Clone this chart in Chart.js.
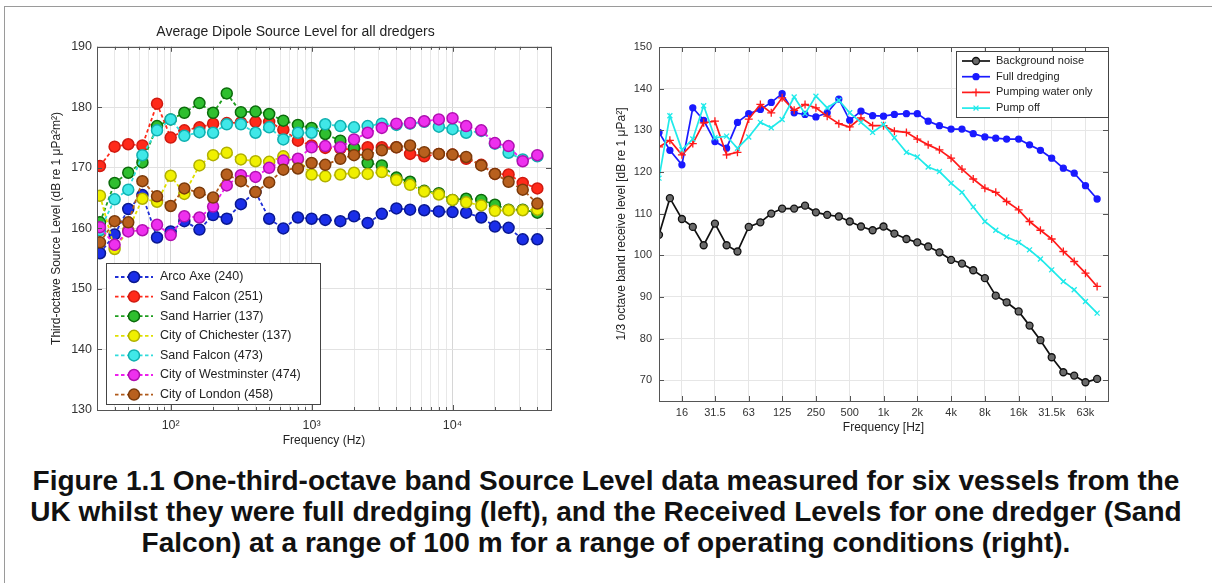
<!DOCTYPE html>
<html>
<head>
<meta charset="utf-8">
<script src="https://cdn.jsdelivr.net/npm/chart.js@4.4.1/dist/chart.umd.min.js"></script>
<style>
  body { margin: 0; background: #fff; width: 1212px; height: 583px; position: relative; overflow: hidden;
         font-family: "Liberation Sans", Arial, sans-serif; }
  .frame { position: absolute; left: 4px; top: 6px; width: 1220px; height: 600px;
           border-left: 1px solid #9a9a9a; border-top: 1px solid #9a9a9a; }
  .box { position: absolute; }
  #leftBox { left: 40px; top: 20px; width: 530px; height: 440px; }
  #rightBox { left: 600px; top: 20px; width: 540px; height: 430px; }
  .caption { position: absolute; left: 0; top: 465px; width: 1212px; text-align: center;
             font-weight: bold; font-size: 28px; line-height: 31px; color: #111; }
</style>
</head>
<body>
<div class="frame"></div>
<div class="box" id="leftBox"><canvas id="leftChart"></canvas></div>
<div class="box" id="rightBox"><canvas id="rightChart"></canvas></div>
<div class="caption">Figure 1.1 One-third-octave band Source Level data measured for six vessels from the<br>UK whilst they were full dredging (left), and the Received Levels for one dredger (Sand<br>Falcon) at a range of 100 m for a range of operating conditions (right).</div>

<script>
Chart.defaults.font.family = '"Liberation Sans", Arial, sans-serif';
Chart.defaults.color = '#333';

// Left panel : source levels, 1/3 octave bands 31.5 Hz - 40 kHz
const leftFreqs = [31.5, 40, 50, 63, 80, 100, 125, 160, 200, 250, 315, 400, 500, 630, 800, 1000,
  1250, 1600, 2000, 2500, 3150, 4000, 5000, 6300, 8000, 10000, 12500, 16000, 20000, 25000, 31500, 40000];

const arcoAxe240 = [155.9, 159.0, 163.2, 165.5, 158.5, 159.5, 161.2, 159.8, 162.2, 161.6, 164.0, 166.0, 161.6, 160.0, 161.8, 161.6,
  161.4, 161.2, 162.0, 160.9, 162.4, 163.3, 163.1, 163.0, 162.8, 162.7, 162.6, 161.8, 160.3, 160.1, 158.2, 158.2];
const sandFalcon251 = [170.3, 173.5, 173.9, 173.7, 180.6, 175.0, 176.2, 176.7, 177.3, 177.4, 177.5, 177.6, 177.6, 176.3, 174.5, 173.7,
  173.3, 173.2, 173.0, 173.4, 173.4, 173.4, 172.3, 171.9, 172.3, 172.2, 171.5, 170.5, 169.0, 168.9, 167.5, 166.6];
const sandHarrier137 = [161.0, 167.5, 169.2, 170.9, 176.9, 178.0, 179.1, 180.7, 179.1, 182.3, 179.2, 179.3, 178.9, 177.8, 177.1, 176.6,
  175.6, 174.5, 173.3, 170.8, 170.4, 168.4, 167.7, 166.2, 165.8, 164.7, 164.9, 164.7, 163.9, 163.1, 163.1, 162.6];
const chichester137 = [165.4, 156.6, 159.7, 164.9, 164.4, 168.7, 165.7, 170.4, 172.1, 172.5, 171.4, 171.1, 171.0, 171.9, 171.4, 168.9,
  168.6, 168.9, 169.2, 169.0, 169.3, 168.0, 167.2, 166.1, 165.6, 164.7, 164.3, 163.8, 162.9, 163.0, 163.0, 163.1];
const sandFalcon473 = [159.7, 164.8, 166.4, 172.1, 176.2, 178.0, 175.3, 175.9, 175.8, 177.2, 177.2, 175.8, 176.7, 174.7, 175.8, 175.8,
  177.2, 176.9, 176.7, 176.9, 177.3, 177.1, 177.3, 177.6, 176.8, 176.4, 175.8, 176.1, 174.0, 172.5, 171.4, 171.9];
const westminster474 = [160.2, 157.3, 159.5, 159.7, 160.6, 158.9, 162.0, 161.8, 163.6, 167.1, 168.8, 168.5, 170.0, 171.2, 171.5, 173.4,
  173.6, 173.4, 174.7, 175.8, 176.6, 177.3, 177.4, 177.7, 178.0, 178.2, 176.9, 176.2, 174.1, 173.6, 171.1, 172.1];
const london458 = [157.7, 161.2, 161.0, 167.8, 165.3, 163.7, 166.6, 165.9, 165.1, 168.9, 167.8, 166.0, 167.6, 169.7, 169.9, 170.8,
  170.5, 171.5, 172.1, 172.2, 172.9, 173.4, 173.7, 172.6, 172.3, 172.2, 171.8, 170.4, 169.0, 167.7, 166.4, 164.1];

const leftGridTicks = [30, 40, 50, 60, 70, 80, 90, 100, 200, 300, 400, 500, 600, 700, 800, 900,
  1000, 2000, 3000, 4000, 5000, 6000, 7000, 8000, 9000, 10000, 20000, 30000, 40000, 50000];
const leftMajorTicks = [100, 1000, 10000];
const leftTickLabels = ['10²', '10³', '10⁴'];
const leftYTicks = [130, 140, 150, 160, 170, 180, 190];

// Right panel : received levels at 100 m, 10 Hz - 80 kHz
const rightFreqs = [10, 12.5, 16, 20, 25, 31.5, 40, 50, 63, 80, 100, 125, 160, 200, 250, 315, 400, 500, 630, 800,
  1000, 1250, 1600, 2000, 2500, 3150, 4000, 5000, 6300, 8000, 10000, 12500, 16000, 20000, 25000, 31500, 40000, 50000, 63000, 80000];

const backgroundNoise = [104.9, 113.7, 108.7, 106.8, 102.4, 107.6, 102.4, 100.9, 106.8, 107.9, 110.0, 111.2, 111.2, 111.9,
  110.3, 109.7, 109.3, 108.1, 106.9, 106.0, 106.9, 105.2, 103.9, 103.1, 102.1, 100.7, 98.9,
  98.0, 96.4, 94.5, 90.3, 88.7, 86.5, 83.1, 79.6, 75.5, 71.9, 71.1, 69.5, 70.3];
const fullDredging = [129.5, 125.2, 121.7, 135.4, 132.4, 127.3, 125.7, 131.9, 134.0, 135.0, 136.7, 138.8, 134.2, 133.8,
  133.2, 134.2, 137.5, 132.4, 134.6, 133.5, 133.4, 133.8, 134.0, 134.0, 132.2, 131.1, 130.3,
  130.3, 129.2, 128.4, 128.1, 127.9, 127.9, 126.5, 125.2, 123.3, 120.9, 119.7, 116.7, 113.5];
const pumpingWater = [126.0, 127.6, 124.1, 126.8, 131.8, 132.2, 124.1, 124.7, 132.7, 136.2, 134.2, 137.8, 134.8, 136.2,
  135.4, 133.4, 131.6, 130.8, 133.0, 131.1, 131.1, 129.8, 129.5, 127.9, 126.5, 125.3, 123.3,
  120.7, 118.3, 116.1, 115.1, 112.9, 110.9, 108.1, 106.0, 103.9, 100.9, 98.5, 95.7, 92.5];
const pumpOff = [118.5, 133.5, 125.3, 127.9, 135.9, 128.2, 128.6, 125.7, 128.4, 131.9, 130.6, 132.6, 138.0, 134.0,
  138.2, 135.4, 137.2, 134.2, 131.9, 129.5, 131.4, 128.2, 124.7, 123.6, 121.2, 120.1, 117.3,
  115.1, 111.6, 108.1, 106.0, 104.4, 103.1, 101.3, 99.1, 96.5, 93.7, 91.7, 88.9, 86.1];

const rightTickValues = [16, 31.5, 63, 125, 250, 500, 1000, 2000, 4000, 8000, 16000, 31500, 63000];
const rightTickLabels = ['16', '31.5', '63', '125', '250', '500', '1k', '2k', '4k', '8k', '16k', '31.5k', '63k'];
const rightYTicks = [70, 80, 90, 100, 110, 120, 130, 140, 150];

// frame, inward ticks and a matlab-like legend box
const boxLegend = {
  id: 'boxLegend',
  afterDraw(chart, args, opts) {
    const { ctx, chartArea: a } = chart;
    ctx.save();
    ctx.strokeStyle = '#555';
    ctx.lineWidth = 1;
    ctx.strokeRect(Math.round(a.left) + 0.5, Math.round(a.top) + 0.5, Math.round(a.width), Math.round(a.height));

    chart.scales.y.ticks.forEach(t => {
      const y = Math.round(chart.scales.y.getPixelForValue(t.value)) + 0.5;
      ctx.beginPath();
      ctx.moveTo(a.left, y); ctx.lineTo(a.left + 5, y);
      ctx.moveTo(a.right, y); ctx.lineTo(a.right - 5, y);
      ctx.stroke();
    });
    chart.scales.x.ticks.forEach(t => {
      const x = Math.round(chart.scales.x.getPixelForValue(t.value)) + 0.5;
      const len = (opts.minor && !opts.minor.includes(t.value)) ? 3 : 5;
      ctx.beginPath();
      ctx.moveTo(x, a.bottom); ctx.lineTo(x, a.bottom - len);
      ctx.moveTo(x, a.top); ctx.lineTo(x, a.top + len);
      ctx.stroke();
    });

    const bx = opts.right != null ? a.right - opts.right - opts.w : a.left + opts.left;
    const by = opts.bottom != null ? a.bottom - opts.bottom - opts.h : a.top + opts.top;
    ctx.fillStyle = '#fff';
    ctx.fillRect(bx, by, opts.w, opts.h);
    ctx.strokeStyle = '#444';
    ctx.strokeRect(Math.round(bx) + 0.5, Math.round(by) + 0.5, opts.w, opts.h);

    ctx.font = opts.fontSize + 'px "Liberation Sans", Arial, sans-serif';
    ctx.textBaseline = 'middle';
    chart.data.datasets.forEach((ds, i) => {
      const y = by + opts.first + i * opts.rowH;
      ctx.strokeStyle = ds.borderColor;
      ctx.lineWidth = ds.borderWidth;
      ctx.setLineDash(ds.borderDash || []);
      ctx.beginPath();
      ctx.moveTo(bx + opts.x0, y); ctx.lineTo(bx + opts.x1, y);
      ctx.stroke();
      ctx.setLineDash([]);
      ctx.fillStyle = ds.pointBackgroundColor;
      ctx.strokeStyle = ds.pointBorderColor;
      ctx.lineWidth = ds.pointBorderWidth;
      Chart.helpers.drawPoint(ctx, { pointStyle: ds.pointStyle, radius: ds.pointRadius,
        borderWidth: ds.pointBorderWidth, rotation: 0 }, bx + (opts.x0 + opts.x1) / 2, y);
      ctx.fillStyle = '#222';
      ctx.fillText(ds.label, bx + opts.tx, y);
    });
    ctx.restore();
  }
};

function leftSeries(label, values, line, fill, edge, i) {
  return {
    label,
    data: values.map((v, k) => ({ x: leftFreqs[k], y: v })),
    borderColor: line, pointBackgroundColor: fill, pointBorderColor: edge,
    borderWidth: 1.8, borderDash: [3.5, 2.5],
    pointStyle: 'circle', pointRadius: 5.5, pointBorderWidth: 1.5,
    order: -i
  };
}

function rightSeries(label, values, line, fill, style, radius, i) {
  return {
    label,
    data: values.map((v, k) => ({ x: rightFreqs[k], y: v })),
    borderColor: line, pointBackgroundColor: fill, pointBorderColor: line,
    borderWidth: 1.7, pointStyle: style, pointRadius: radius, pointBorderWidth: 1.3,
    order: -i
  };
}

new Chart(document.getElementById('leftChart'), {
  type: 'line',
  data: {
    datasets: [
      leftSeries('Arco Axe (240)', arcoAxe240, '#1f2fd6', '#1a2ee8', '#0a1890', 0),
      leftSeries('Sand Falcon (251)', sandFalcon251, '#ff2a1a', '#ff2a1a', '#d01a10', 1),
      leftSeries('Sand Harrier (137)', sandHarrier137, '#1e9e1e', '#2fbf2f', '#0b6b0b', 2),
      leftSeries('City of Chichester (137)', chichester137, '#e0e000', '#f0f000', '#b0b000', 3),
      leftSeries('Sand Falcon (473)', sandFalcon473, '#30dcdc', '#40e8e8', '#10b0b0', 4),
      leftSeries('City of Westminster (474)', westminster474, '#ee20ee', '#ee30ee', '#b010b0', 5),
      leftSeries('City of London (458)', london458, '#b05a1a', '#b8601e', '#7a3a0a', 6)
    ]
  },
  options: {
    responsive: true, maintainAspectRatio: false, animation: false, events: [],
    layout: { padding: { left: 0, right: 19, top: 0, bottom: 0 } },
    plugins: {
      legend: { display: false },
      tooltip: { enabled: false },
      title: { display: true, text: 'Average Dipole Source Level for all dredgers',
               font: { size: 14, weight: 'normal' }, color: '#222', padding: { top: 4, bottom: 6 } },
      boxLegend: { left: 9, bottom: 6, w: 214, h: 141, first: 14, rowH: 19.6,
                   x0: 9, x1: 47, tx: 54, fontSize: 12.5, minor: leftMajorTicks }
    },
    scales: {
      x: {
        type: 'logarithmic', min: 30, max: 50000,
        afterBuildTicks: s => { s.ticks = leftGridTicks.map(v => ({ value: v })); },
        afterFit: s => { s.height = 50; },
        ticks: { autoSkip: false, maxRotation: 0, padding: 8, font: { size: 12.5 }, color: '#333',
                 callback: v => { const k = leftMajorTicks.indexOf(v); return k >= 0 ? leftTickLabels[k] : ''; } },
        grid: { color: c => leftMajorTicks.includes(c.tick.value) ? '#d6d6d6' : '#e8e8e8', drawTicks: false },
        border: { display: false },
        title: { display: true, text: 'Frequency (Hz)', font: { size: 12 }, color: '#222', padding: { top: 0, bottom: 12 } }
      },
      y: {
        min: 130, max: 190,
        afterBuildTicks: s => { s.ticks = leftYTicks.map(v => ({ value: v })); },
        afterFit: s => { s.width = 57; },
        ticks: { padding: 5, font: { size: 12.5 }, color: '#333' },
        grid: { color: '#e2e2e2', drawTicks: false },
        border: { display: false },
        title: { display: true, text: 'Third-octave Source Level (dB re 1 μPa²m²)', font: { size: 12 },
                 color: '#222', padding: { top: 9, bottom: 0 } }
      }
    }
  },
  plugins: [boxLegend]
});

new Chart(document.getElementById('rightChart'), {
  type: 'line',
  data: {
    datasets: [
      rightSeries('Background noise', backgroundNoise, '#111111', '#6a6a6a', 'circle', 3.5, 0),
      rightSeries('Full dredging', fullDredging, '#1a1aff', '#1a1aff', 'circle', 3, 1),
      rightSeries('Pumping water only', pumpingWater, '#ff1a1a', '#ff1a1a', 'cross', 4, 2),
      rightSeries('Pump off', pumpOff, '#20eaea', '#20eaea', 'crossRot', 3.5, 3)
    ]
  },
  options: {
    responsive: true, maintainAspectRatio: false, animation: false, events: [],
    layout: { padding: { left: 0, right: 32, top: 27, bottom: 0 } },
    plugins: {
      legend: { display: false },
      tooltip: { enabled: false },
      boxLegend: { right: 0, top: 4, w: 152, h: 66, first: 10, rowH: 15.7,
                   x0: 6, x1: 34, tx: 40, fontSize: 11 }
    },
    scales: {
      x: {
        type: 'logarithmic', min: 10, max: 100000,
        afterBuildTicks: s => { s.ticks = rightTickValues.map(v => ({ value: v })); },
        afterFit: s => { s.height = 49; },
        ticks: { autoSkip: false, maxRotation: 0, padding: 5, font: { size: 11 }, color: '#333',
                 callback: v => rightTickLabels[rightTickValues.indexOf(v)] },
        grid: { color: '#e6e6e6', drawTicks: false },
        border: { display: false },
        title: { display: true, text: 'Frequency [Hz]', font: { size: 12 }, color: '#222', padding: { top: 0, bottom: 15 } }
      },
      y: {
        min: 65, max: 150,
        afterBuildTicks: s => { s.ticks = rightYTicks.map(v => ({ value: v })); },
        afterFit: s => { s.width = 59; },
        ticks: { padding: 7, font: { size: 11 }, color: '#333' },
        grid: { color: '#e6e6e6', drawTicks: false },
        border: { display: false },
        title: { display: true, text: '1/3 octave band receive level [dB re 1 μPa²]', font: { size: 12 },
                 color: '#222', padding: { top: 14, bottom: 0 } }
      }
    }
  },
  plugins: [boxLegend]
});
</script>
</body>
</html>
